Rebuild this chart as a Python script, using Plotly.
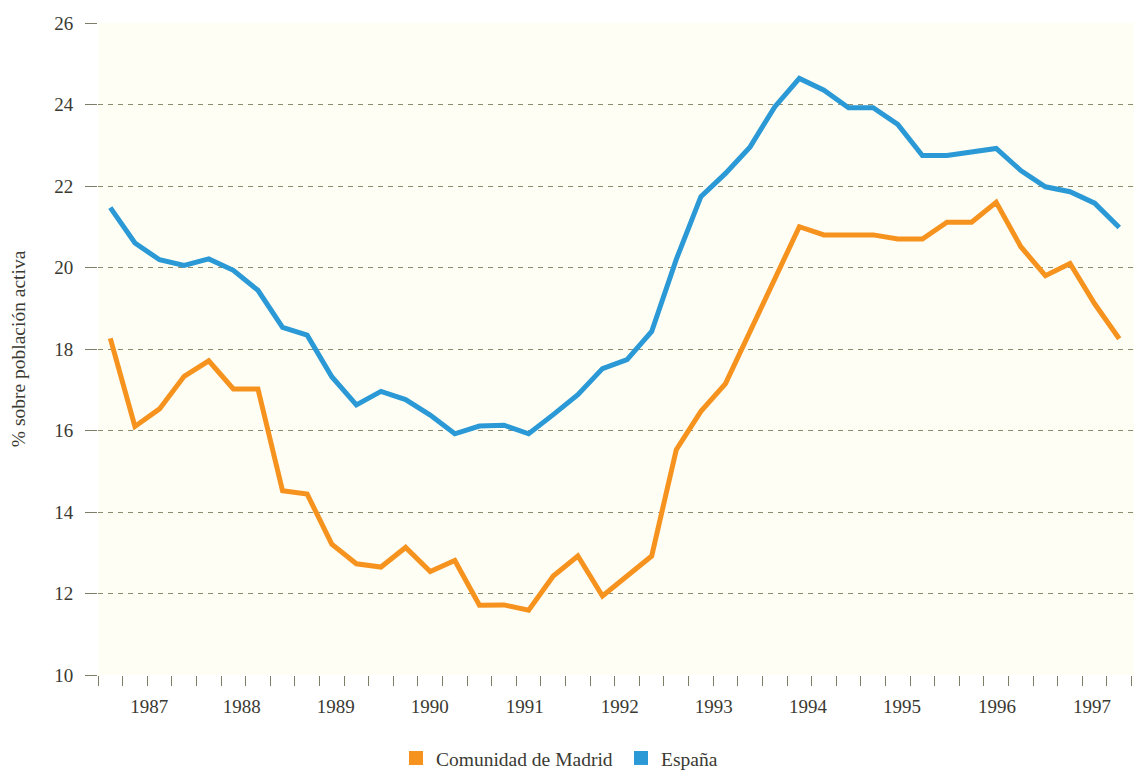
import plotly.graph_objects as go

espana = [21.47, 20.60, 20.19, 20.05, 20.21, 19.93, 19.44, 18.53, 18.34, 17.32,
          16.63, 16.96, 16.76, 16.38, 15.92, 16.11, 16.13, 15.92, 16.39, 16.88,
          17.52, 17.74, 18.43, 20.20, 21.74, 22.31, 22.96, 23.94, 24.64, 24.35,
          23.92, 23.92, 23.51, 22.75, 22.75, 22.82, 22.92, 22.38, 21.98, 21.86,
          21.58, 20.98]
madrid = [18.26, 16.10, 16.53, 17.33, 17.71, 17.02, 17.02, 14.52, 14.44, 13.21,
          12.73, 12.65, 13.13, 12.54, 12.81, 11.71, 11.72, 11.59, 12.43, 12.92,
          11.94, 12.43, 12.92, 15.53, 16.47, 17.15, 18.42, 19.71, 21.00, 20.80,
          20.80, 20.80, 20.70, 20.70, 21.11, 21.11, 21.60, 20.51, 19.80, 20.10,
          19.11, 18.25]
periods = list(range(len(espana)))

year_labels = ["1987", "1988", "1989", "1990", "1991", "1992",
               "1993", "1994", "1995", "1996", "1997"]
year_label_pos = [1.58, 5.34, 9.16, 12.98, 16.84, 20.70, 24.52, 28.35, 32.17, 36.03, 39.89]
y_ticks = [10, 12, 14, 16, 18, 20, 22, 24, 26]
y_grid = [12, 14, 16, 18, 20, 22, 24]

ORANGE = "#f6921e"
BLUE = "#2a99d6"
AXIS = "#7d7d68"
TEXT = "#3a3a32"
FONT = "Liberation Serif"

fig = go.Figure()
fig.add_trace(go.Scatter(x=periods, y=madrid, mode="lines",
                         line=dict(color=ORANGE, width=5), showlegend=False))
fig.add_trace(go.Scatter(x=periods, y=espana, mode="lines",
                         line=dict(color=BLUE, width=5), showlegend=False))
# legend entries (square swatches)
fig.add_trace(go.Scatter(x=[None], y=[None], mode="markers", name="Comunidad de Madrid",
                         marker=dict(symbol="square", size=14, color=ORANGE)))
fig.add_trace(go.Scatter(x=[None], y=[None], mode="markers", name="España",
                         marker=dict(symbol="square", size=14, color=BLUE)))

fig.update_layout(
    width=1134, height=771,
    margin=dict(l=98, r=0, t=23, b=96),
    paper_bgcolor="white",
    plot_bgcolor="#fefef4",
    font=dict(family=FONT, size=19, color=TEXT),
    legend=dict(orientation="h", xref="container", yref="container",
                x=0.3492, xanchor="left", y=0.0165, yanchor="middle",
                font=dict(family=FONT, size=19.5, color=TEXT),
                itemwidth=30, entrywidth=180, bgcolor="rgba(0,0,0,0)"),
    xaxis=dict(range=[-0.5, 41.6], showgrid=False, zeroline=False, showline=False,
               automargin=False,
               tickmode="array", tickvals=year_label_pos, ticktext=year_labels,
               ticks="outside", ticklen=14, tickcolor="rgba(0,0,0,0)",
               tickfont=dict(family=FONT, size=19, color=TEXT),
               minor=dict(tick0=-0.5, dtick=1, ticks="outside", ticklen=10,
                          tickcolor=AXIS, tickwidth=1, showgrid=False)),
    yaxis=dict(range=[10, 26], showgrid=False, zeroline=False, showline=False,
               automargin=False,
               tickmode="array", tickvals=y_ticks,
               ticks="outside", ticklen=12, tickcolor=AXIS, tickwidth=1,
               ticklabelstandoff=8,
               tickfont=dict(family=FONT, size=19, color=TEXT),
               minor=dict(tickmode="array", tickvals=y_grid, ticks="",
                          showgrid=True, gridcolor="#8c8c70", gridwidth=1,
                          griddash="5px,5px")),
    annotations=[dict(text="% sobre población activa", textangle=-90,
                      xref="paper", yref="paper", x=-0.077, y=0.5,
                      xanchor="center", yanchor="middle", showarrow=False,
                      font=dict(family=FONT, size=19.5, color=TEXT))],
)

fig.write_html("out.html", config={"displayModeBar": False})
with open("out.html", "r", encoding="utf-8") as f:
    html = f.read()
html = html.replace("<body>", '<body style="margin:0">', 1)
with open("out.html", "w", encoding="utf-8") as f:
    f.write(html)
